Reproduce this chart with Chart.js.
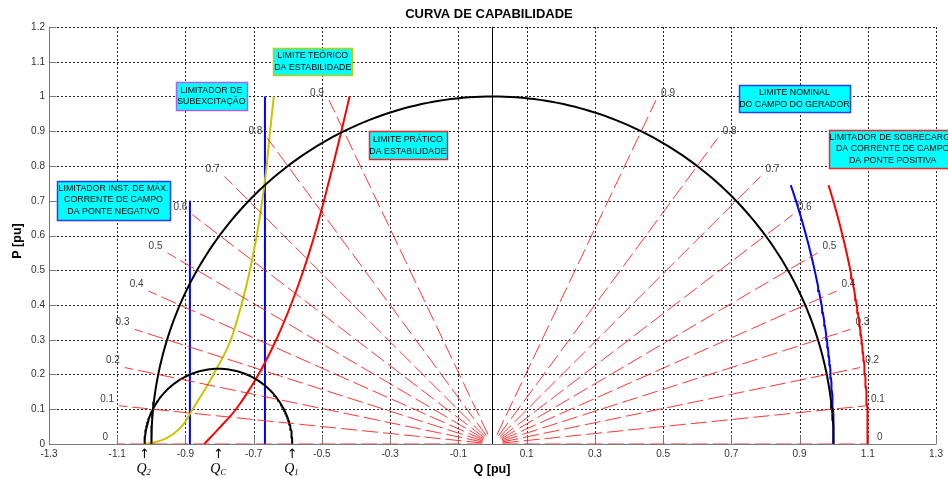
<!DOCTYPE html>
<html>
<head>
<meta charset="utf-8">
<title>Curva de Capabilidade</title>
<script src="https://cdn.jsdelivr.net/npm/chart.js@4/dist/chart.umd.min.js"></script>
<style>
  html, body { margin: 0; padding: 0; background: #fff; }
  #wrap { width: 948px; height: 479px; }
</style>
</head>
<body>
<div id="wrap"><canvas id="c" width="948" height="479"></canvas></div>
<script>
// ---- axis ticks ----
const qTicks = [-1.3, -1.1, -0.9, -0.7, -0.5, -0.3, -0.1, 0.1, 0.3, 0.5, 0.7, 0.9, 1.1, 1.3];
const pTicks = [0, 0.1, 0.2, 0.3, 0.4, 0.5, 0.6, 0.7, 0.8, 0.9, 1, 1.1, 1.2];

// ---- power-factor rays (cos phi) ----
const powerFactors = [0, 0.1, 0.2, 0.3, 0.4, 0.5, 0.6, 0.7, 0.8, 0.9];
const pfRayStart = 0.03;   // pu, inner end of each ray
const pfRayEnd = 1.1;      // pu, outer end of each ray

// ---- armature current limit: circle centred at origin, radius 1 pu ----
const armatureCentre = [0, 0];
const armatureRadius = 1.0;

// ---- stability circle between Q2 and Q1 (Qc is its centre) ----
const stabilityRoots = [-1.02, -0.587];          // Q2, Q1

// ---- rated field limit and positive-bridge overload limit (arcs) ----
const fieldNominalArc = [-1.27, 1.0, 0.745];    // centre Q, Q at P=0, top P
const fieldOverloadArc = [-1.37, 1.1, 0.745];   // centre Q, Q at P=0, top P

// ---- under-excitation limiter and negative-bridge instantaneous limiter ----
const underExcitationQ = -0.667, underExcitationTop = 1.0;
const negBridgeQ = -0.887, negBridgeTop = 0.7;

// ---- theoretical stability limit (yellow) ----
const theoreticalQ = [-1.02, -0.99, -0.96, -0.93, -0.905, -0.885, -0.862, -0.838, -0.818, -0.767, -0.736, -0.711, -0.691, -0.675, -0.662, -0.652, -0.641];
const theoreticalP = [0, 0.005, 0.015, 0.033, 0.058, 0.09, 0.127, 0.165, 0.2, 0.3, 0.4, 0.5, 0.6, 0.7, 0.8, 0.9, 1.0];

// ---- practical stability limit (red, left) ----
const practicalQ = [-0.845, -0.797, -0.752, -0.686, -0.634, -0.591, -0.554, -0.522, -0.494, -0.468, -0.443, -0.419];
const practicalP = [0, 0.05, 0.1, 0.2, 0.3, 0.4, 0.5, 0.6, 0.7, 0.8, 0.9, 1.0];

// ---- text notes ----
const noteLines = [
  ['LIMITE TEÓRICO', 'DA ESTABILIDADE'],
  ['LIMITADOR DE', 'SUBEXCITAÇÃO'],
  ['LIMITE PRÁTICO', 'DA ESTABILIDADE'],
  ['LIMITADOR INST. DE MÁX.', 'CORRENTE DE CAMPO', 'DA PONTE NEGATIVO'],
  ['LIMITE NOMINAL', 'DO CAMPO DO GERADOR'],
  ['LIMITADOR DE SOBRECARGA', 'DA CORRENTE DE CAMPO', 'DA PONTE POSITIVA']
];

// note placement (box centre in pu, box size in px, frame colour)
const noteLayout = [
  { q: -0.527, p: 1.100, w: 79,  h: 27, border: '#c8c800' },
  { q: -0.824, p: 1.001, w: 71,  h: 28, border: '#b060f0' },
  { q: -0.248, p: 0.859, w: 78,  h: 28, border: '#ff2020' },
  { q: -1.111, p: 0.702, w: 113, h: 39, border: '#2040ff' },
  { q:  0.885, p: 0.994, w: 111, h: 27, border: '#2040ff' },
  { q:  1.173, p: 0.849, w: 128, h: 38, border: '#ff2020' }
];

// ---------- helpers building series ----------
function semicircle(c, r) {
  const pts = [];
  for (let a = 0; a <= 180; a += 1) {
    const t = a * Math.PI / 180;
    pts.push({ x: c + r * Math.cos(t), y: r * Math.sin(t) });
  }
  return pts;
}
function fieldArc(spec) {
  const [c, q0, pTop] = spec;
  const r = q0 - c;
  const tMax = Math.asin(pTop / r);
  const pts = [];
  for (let i = 0; i <= 60; i++) {
    const t = tMax * i / 60;
    pts.push({ x: c + r * Math.cos(t), y: r * Math.sin(t) });
  }
  return pts;
}
const zipPts = (qs, ps) => qs.map((q, i) => ({ x: q, y: ps[i] }));

const RED = '#ff0000', BLUE = '#0000ff', BLACK = '#000000', YELLOW = '#c8c400';
const base = { showLine: true, fill: false, pointRadius: 0, borderWidth: 2, tension: 0 };

const datasets = [];

// power-factor rays, both sides
powerFactors.forEach(pf => {
  const s = Math.sqrt(1 - pf * pf);
  [1, -1].forEach(side => {
    datasets.push(Object.assign({}, base, {
      data: [
        { x: side * pfRayStart * s, y: pfRayStart * pf },
        { x: side * pfRayEnd * s, y: pfRayEnd * pf }
      ],
      borderColor: 'rgba(255,20,20,0.85)',
      borderWidth: 1,
      borderDash: [16, 5]
    }));
  });
});

// P axis line at Q = 0
datasets.push(Object.assign({}, base, {
  data: [{ x: 0, y: 0 }, { x: 0, y: 1.2 }], borderColor: BLACK, borderWidth: 1
}));

// armature limit
datasets.push(Object.assign({}, base, {
  data: semicircle(armatureCentre[0], armatureRadius), borderColor: BLACK
}));

// stability circle
const qc = (stabilityRoots[0] + stabilityRoots[1]) / 2;
const rc = (stabilityRoots[1] - stabilityRoots[0]) / 2;
datasets.push(Object.assign({}, base, { data: semicircle(qc, rc), borderColor: BLACK }));

// theoretical stability limit
datasets.push(Object.assign({}, base, {
  data: zipPts(theoreticalQ, theoreticalP), borderColor: YELLOW, cubicInterpolationMode: 'monotone'
}));

// practical stability limit
datasets.push(Object.assign({}, base, {
  data: zipPts(practicalQ, practicalP), borderColor: RED, cubicInterpolationMode: 'monotone'
}));

// vertical limiters
datasets.push(Object.assign({}, base, {
  data: [{ x: negBridgeQ, y: 0 }, { x: negBridgeQ, y: negBridgeTop }], borderColor: BLUE
}));
datasets.push(Object.assign({}, base, {
  data: [{ x: underExcitationQ, y: 0 }, { x: underExcitationQ, y: underExcitationTop }], borderColor: BLUE
}));

// field limits
datasets.push(Object.assign({}, base, { data: fieldArc(fieldNominalArc), borderColor: BLUE }));
datasets.push(Object.assign({}, base, { data: fieldArc(fieldOverloadArc), borderColor: RED }));

// ---------- decorations ----------
const SANS = '"Liberation Sans", Arial, sans-serif';
const SERIF = '"Liberation Serif", "Times New Roman", serif';
const fmt = v => String(Number(v.toFixed(2)));

const frame = {
  id: 'frame',
  beforeDatasetsDraw(chart) {
    const { ctx, chartArea: a, scales: { x, y } } = chart;
    ctx.save();
    // dotted grid
    ctx.strokeStyle = 'rgba(0,0,0,0.85)';
    ctx.lineWidth = 1;
    ctx.setLineDash([2, 2]);
    qTicks.forEach(q => {
      const px = Math.round(x.getPixelForValue(q)) + 0.5;
      ctx.beginPath(); ctx.moveTo(px, a.top); ctx.lineTo(px, a.bottom); ctx.stroke();
    });
    pTicks.forEach(p => {
      const py = Math.round(y.getPixelForValue(p)) + 0.5;
      ctx.beginPath(); ctx.moveTo(a.left, py); ctx.lineTo(a.right, py); ctx.stroke();
    });
    ctx.setLineDash([]);
    // axes and inner tick marks
    ctx.strokeStyle = '#7a7a7a';
    const lx = Math.round(a.left) + 0.5, by = Math.round(a.bottom) + 0.5;
    ctx.beginPath(); ctx.moveTo(lx, a.top); ctx.lineTo(lx, by); ctx.lineTo(a.right, by); ctx.stroke();
    qTicks.forEach(q => {
      const px = Math.round(x.getPixelForValue(q)) + 0.5;
      ctx.beginPath(); ctx.moveTo(px, by); ctx.lineTo(px, by - 9); ctx.stroke();
    });
    pTicks.forEach(p => {
      const py = Math.round(y.getPixelForValue(p)) + 0.5;
      ctx.beginPath(); ctx.moveTo(lx, py); ctx.lineTo(lx + 7, py); ctx.stroke();
    });
    ctx.restore();
  },
  afterDatasetsDraw(chart) {
    const { ctx, scales: { x, y } } = chart;
    ctx.save();

    // power-factor labels
    ctx.font = '10px ' + SANS;
    ctx.fillStyle = '#404040';
    ctx.textAlign = 'center';
    ctx.textBaseline = 'middle';
    powerFactors.forEach(pf => {
      const s = Math.sqrt(1 - pf * pf);
      [1, -1].forEach(side => {
        const q = side * (pfRayEnd * s + 0.035);
        const p = pfRayEnd * pf + 0.02;
        ctx.fillText(fmt(pf), x.getPixelForValue(q), y.getPixelForValue(p));
      });
    });

    // note boxes
    noteLines.forEach((lines, i) => {
      const L = noteLayout[i];
      const cx = x.getPixelForValue(L.q), cy = y.getPixelForValue(L.p);
      const left = Math.round(cx - L.w / 2) + 0.5, top = Math.round(cy - L.h / 2) + 0.5;
      ctx.fillStyle = '#00ffff';
      ctx.fillRect(left, top, L.w, L.h);
      ctx.strokeStyle = L.border;
      ctx.lineWidth = 1.5;
      ctx.strokeRect(left, top, L.w, L.h);
      ctx.fillStyle = '#000';
      ctx.font = '8.8px ' + SANS;
      ctx.textAlign = 'center';
      ctx.textBaseline = 'middle';
      const step = lines.length === 3 ? 11.3 : 11.8;
      const y0 = cy - step * (lines.length - 1) / 2;
      lines.forEach((t, k) => ctx.fillText(t, cx, y0 + k * step));
    });

    // Q2, Qc, Q1 markers under the axis
    const marks = [[stabilityRoots[0], '2'], [qc, 'C'], [stabilityRoots[1], '1']];
    marks.forEach(([q, sub]) => {
      const px = x.getPixelForValue(q);
      ctx.fillStyle = '#000';
      ctx.textAlign = 'center';
      ctx.textBaseline = 'middle';
      ctx.font = '13px "DejaVu Sans", sans-serif';
      ctx.fillText('↑', px, 455);
      ctx.font = 'italic 14px ' + SERIF;
      ctx.textAlign = 'right';
      ctx.fillText('Q', px + 2, 469);
      ctx.font = 'italic 8.5px ' + SERIF;
      ctx.textAlign = 'left';
      ctx.fillText(sub, px + 2, 473);
    });

    // title and axis titles
    ctx.fillStyle = '#000';
    ctx.textAlign = 'center';
    ctx.textBaseline = 'middle';
    ctx.font = 'bold 13px ' + SANS;
    ctx.fillText('CURVA DE CAPABILIDADE', 489, 14.5);
    ctx.font = 'bold 12.5px ' + SANS;
    ctx.fillText('Q [pu]', 492, 470);
    ctx.translate(17.5, 241);
    ctx.rotate(-Math.PI / 2);
    ctx.fillText('P [pu]', 0, 0);
    ctx.restore();
  }
};

new Chart(document.getElementById('c'), {
  type: 'scatter',
  data: { datasets },
  options: {
    responsive: false,
    animation: false,
    events: [],
    layout: { padding: { top: 27, right: 12, left: 0, bottom: 0 } },
    plugins: { legend: { display: false }, tooltip: { enabled: false }, title: { display: false } },
    elements: { point: { radius: 0 } },
    scales: {
      x: {
        type: 'linear', min: -1.3, max: 1.3,
        afterBuildTicks: s => { s.ticks = qTicks.map(v => ({ value: v })); },
        afterFit: s => { s.height = 35; },
        grid: { display: false, drawTicks: false },
        border: { display: false },
        ticks: { font: { family: SANS, size: 10 }, color: '#333', padding: 4, maxRotation: 0, autoSkip: false, callback: v => fmt(v) }
      },
      y: {
        type: 'linear', min: 0, max: 1.2,
        afterBuildTicks: s => { s.ticks = pTicks.map(v => ({ value: v })); },
        afterFit: s => { s.width = 49; },
        grid: { display: false, drawTicks: false },
        border: { display: false },
        ticks: { font: { family: SANS, size: 10 }, color: '#333', padding: 4, autoSkip: false, callback: v => fmt(v) }
      }
    }
  },
  plugins: [frame]
});
</script>
</body>
</html>
